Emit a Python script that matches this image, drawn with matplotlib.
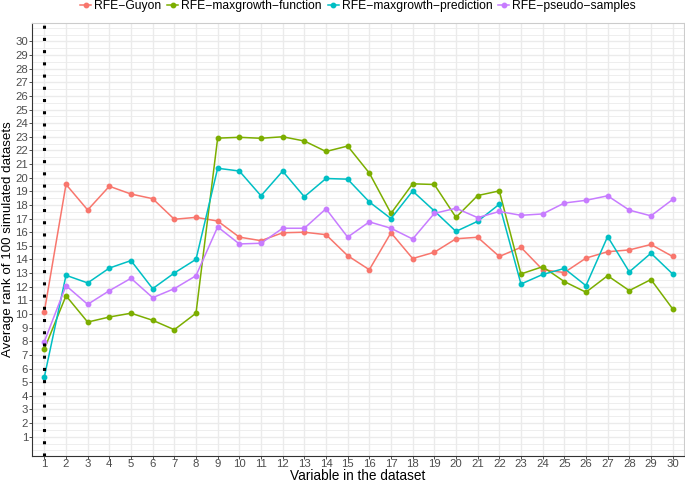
import numpy as np
import matplotlib
matplotlib.use("Agg")
import matplotlib.pyplot as plt
from matplotlib.ticker import MultipleLocator

plt.rcParams['font.family'] = ['Liberation Sans', 'DejaVu Sans']

variables = list(range(1, 31))
series_names = ["RFE\u2212Guyon", "RFE\u2212maxgrowth\u2212function",
                "RFE\u2212maxgrowth\u2212prediction", "RFE\u2212pseudo\u2212samples"]

guyon = [10.17, 19.51, 17.63, 19.37, 18.8, 18.46, 16.95, 17.09, 16.82, 15.64,
         15.38, 15.96, 16.0, 15.82, 14.28, 13.25, 15.96, 14.07, 14.53, 15.52,
         15.63, 14.22, 14.89, 13.25, 13.04, 14.1, 14.57, 14.7, 15.1, 14.22]
maxgrowth_function = [7.43, 11.34, 9.41, 9.78, 10.06, 9.54, 8.85, 10.06, 22.9, 22.96,
                      22.89, 23.0, 22.69, 21.92, 22.32, 20.34, 17.38, 19.55, 19.5, 17.09,
                      18.69, 19.03, 12.94, 13.47, 12.38, 11.6, 12.81, 11.72, 12.53, 10.38]
maxgrowth_prediction = [5.38, 12.84, 12.28, 13.37, 13.92, 11.86, 13.01, 14.01, 20.69, 20.49,
                        18.67, 20.48, 18.6, 19.94, 19.89, 18.22, 17.0, 19.02, 17.56, 16.06,
                        16.8, 18.05, 12.2, 12.9, 13.34, 12.08, 15.68, 13.09, 14.46, 12.94]
pseudo_samples = [7.98, 12.08, 10.71, 11.71, 12.62, 11.2, 11.86, 12.81, 16.39, 15.14,
                  15.19, 16.29, 16.29, 17.72, 15.64, 16.76, 16.29, 15.5, 17.38, 17.76,
                  17.07, 17.52, 17.24, 17.34, 18.14, 18.34, 18.67, 17.62, 17.2, 18.4]

colors = ["#F8766D", "#7CAE00", "#00BFC4", "#C77CFF"]
all_series = [guyon, maxgrowth_function, maxgrowth_prediction, pseudo_samples]

fig = plt.figure(figsize=(6.85, 4.82), dpi=100)
ax = fig.add_axes([0.0467, 0.0546, 0.952, 0.8984])

for name, vals, col in zip(series_names, all_series, colors):
    ax.plot(variables, vals, color=col, linewidth=1.1, marker="o",
            markersize=3.2, label=name, zorder=3)

ax.axvline(1, color="black", linewidth=2.2, linestyle=(0, (1, 3)), zorder=4)

ax.set_xlim(0.43, 30.53)
ax.set_ylim(-0.39, 31.37)
ax.set_xticks(variables)
ax.set_yticks(range(1, 31))
ax.yaxis.set_minor_locator(MultipleLocator(0.5))

ax.grid(True, which="major", color="#EBEBEB", linewidth=1.0, zorder=0)
ax.grid(True, which="minor", axis="y", color="#EBEBEB", linewidth=0.6, zorder=0)
ax.set_axisbelow(True)
ax.tick_params(which="minor", length=0)
ax.tick_params(which="major", colors="#333333", labelcolor="#4D4D4D",
               labelsize=8.2, length=2.0, width=0.6, pad=0.8)
ax.tick_params(axis="x", pad=0.3)

for side in ["left", "bottom", "top", "right"]:
    ax.spines[side].set_color("#333333" if side in ("left", "bottom") else "#cccccc")
    ax.spines[side].set_linewidth(0.8)

ax.set_xlabel("Variable in the dataset", fontsize=9.8, va="top")
ax.set_ylabel("Average rank of 100 simulated datasets", fontsize=9.6, va="center")
ax.xaxis.set_label_coords(0.5, -0.0305)
ax.yaxis.set_label_coords(-0.0375, 0.5)

fig.legend(loc="center", bbox_to_anchor=(0.523, 0.988), ncol=4, frameon=False,
           fontsize=8.7, handlelength=0.9, handletextpad=0.25, columnspacing=0.5,
           borderpad=0)

fig.savefig("out.png", dpi=100)
